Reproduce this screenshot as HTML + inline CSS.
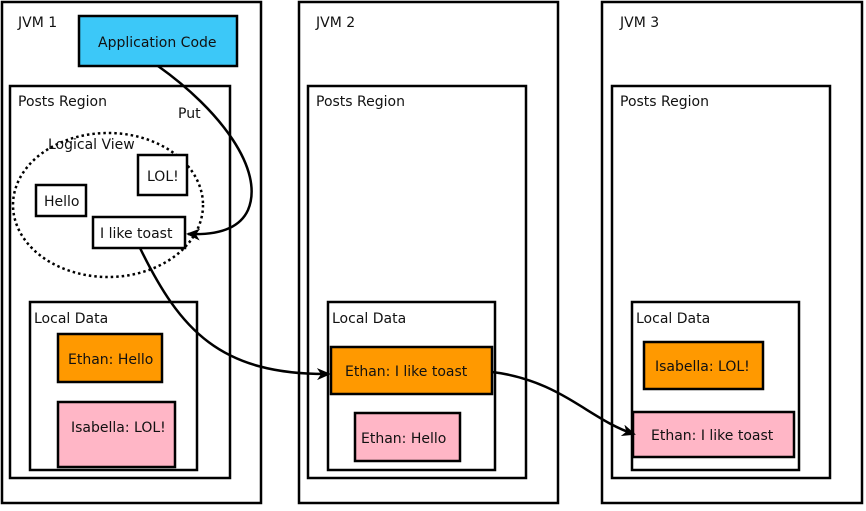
<!DOCTYPE html>
<html><head><style>
body{margin:0;background:#fff;width:866px;height:506px;overflow:hidden}
</style></head><body>
<svg width="866" height="506" viewBox="0 0 866 506" xmlns="http://www.w3.org/2000/svg" font-family="DejaVu Sans, Liberation Sans, sans-serif" font-size="14" fill="#111">
<defs><marker id="a" markerWidth="14" markerHeight="12" refX="12" refY="6" orient="auto" markerUnits="userSpaceOnUse"><path d="M0,0 L14,6 L0,12 L4,6 z" fill="#000"/></marker></defs>
<g fill="none" stroke="#000" stroke-width="2.5">
<rect x="2" y="2" width="259" height="501"/>
<rect x="299" y="2" width="259" height="501"/>
<rect x="602" y="2" width="260" height="501"/>
<rect x="10" y="86" width="220" height="392"/>
<rect x="308" y="86" width="218" height="392"/>
<rect x="612" y="86" width="218" height="392"/>
<rect x="30" y="302" width="167" height="168"/>
<rect x="328" y="302" width="167" height="168"/>
<rect x="632" y="302" width="167" height="168"/>
<ellipse cx="108" cy="205" rx="95" ry="72" stroke-dasharray="2.5,3"/>
</g>
<g stroke="#000" stroke-width="2.5">
<rect x="79" y="16" width="158" height="50" fill="#3cc8f8"/>
<rect x="36" y="185" width="50" height="31" fill="#fff"/>
<rect x="138" y="155" width="49" height="40" fill="#fff"/>
<rect x="93" y="217" width="92" height="31" fill="#fff"/>
<rect x="58" y="334" width="104" height="48" fill="#ff9900"/>
<rect x="58" y="402" width="117" height="65" fill="#ffb6c6"/>
<rect x="331" y="347" width="161" height="47" fill="#ff9900"/>
<rect x="355" y="413" width="105" height="48" fill="#ffb6c6"/>
<rect x="644" y="342" width="119" height="47" fill="#ff9900"/>
<rect x="633" y="412" width="161" height="45" fill="#ffb6c6"/>
</g>
<g fill="none" stroke="#000" stroke-width="2.5">
<path d="M158,66 C220,110 265,170 248,210 C238,232 210,235 188,234" marker-end="url(#a)"/>
<path d="M140,248 C180,330 220,375 329,374" marker-end="url(#a)"/>
<path d="M492,372 C560,380 590,420 634,434" marker-end="url(#a)"/>
</g>
<text x="18" y="27">JVM 1</text>
<text x="316" y="27">JVM 2</text>
<text x="620" y="27">JVM 3</text>
<text x="98" y="47">Application Code</text>
<text x="18" y="106">Posts Region</text>
<text x="316" y="106">Posts Region</text>
<text x="620" y="106">Posts Region</text>
<text x="178" y="118">Put</text>
<text x="48" y="149">Logical View</text>
<text x="147" y="181">LOL!</text>
<text x="44" y="206">Hello</text>
<text x="100" y="238">I like toast</text>
<text x="34" y="323">Local Data</text>
<text x="332" y="323">Local Data</text>
<text x="636" y="323">Local Data</text>
<text x="68" y="364">Ethan: Hello</text>
<text x="71" y="432">Isabella: LOL!</text>
<text x="345" y="376">Ethan: I like toast</text>
<text x="361" y="443">Ethan: Hello</text>
<text x="655" y="371">Isabella: LOL!</text>
<text x="651" y="440">Ethan: I like toast</text>
</svg>
</body></html>
